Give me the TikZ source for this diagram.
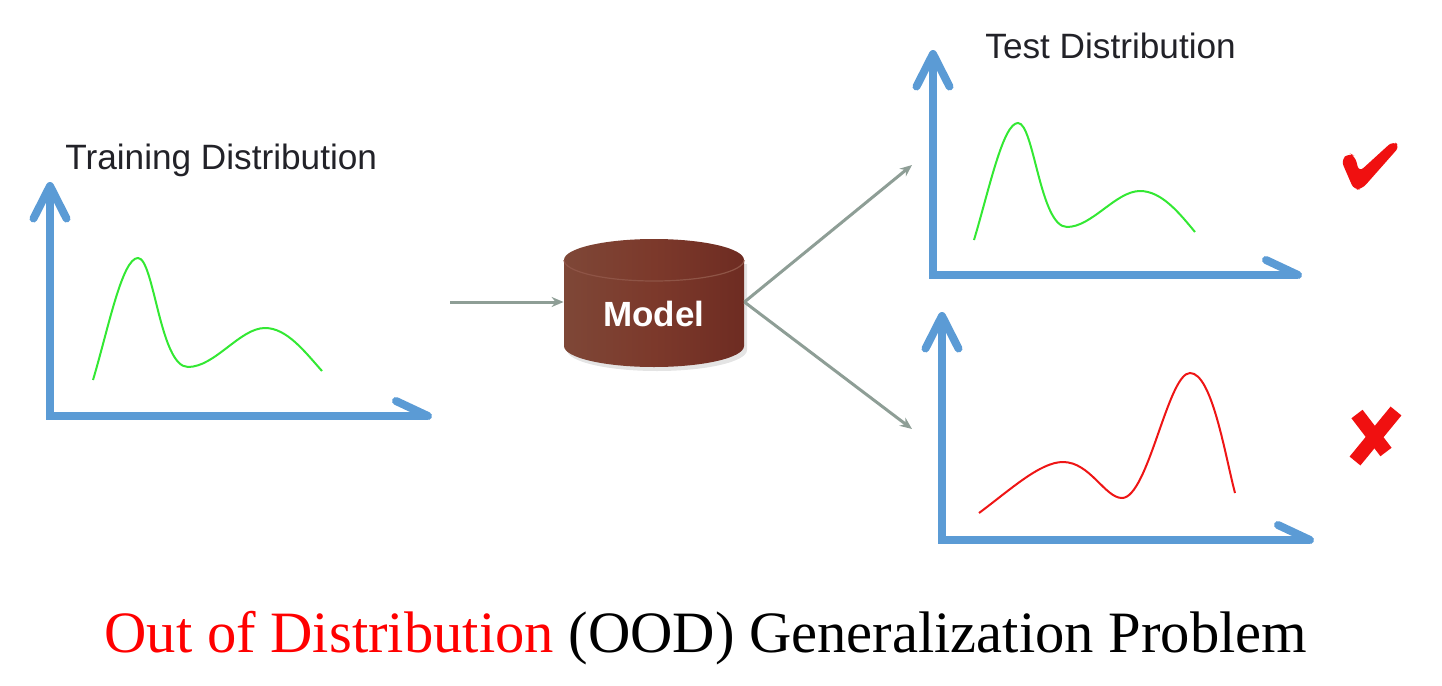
\documentclass[tikz,border=0pt]{standalone}
\usepackage{fontspec}
\usetikzlibrary{arrows.meta}
\newfontfamily\sansf{Liberation Sans}
\newfontfamily\seriff{Liberation Serif}
\definecolor{axisblue}{HTML}{5B9BD5}
\definecolor{curvegreen}{HTML}{33E833}
\definecolor{curvered}{HTML}{EE1515}
\definecolor{markred}{HTML}{F01010}
\definecolor{arrowgray}{HTML}{8E9E96}
\definecolor{cylL}{HTML}{7E4737}
\definecolor{cylM}{HTML}{7C392B}
\definecolor{cylR}{HTML}{6E2C22}
\definecolor{cylrim}{HTML}{8E5446}
\definecolor{titlegray}{HTML}{222228}
\tikzset{
  axisline/.style={draw=axisblue, line width=4pt, line join=miter},
  axisbarb/.style={draw=axisblue, line width=4pt, line cap=round, line join=round},
  goodcurve/.style={draw=curvegreen, line width=1pt},
  badcurve/.style={draw=curvered, line width=1pt},
  flow/.style={draw=arrowgray, line width=1.5pt, -{Stealth[length=6pt,width=5pt]}},
  charttitle/.style={font=\sansf\fontsize{17.6pt}{21pt}\selectfont, text=titlegray, anchor=base west, inner sep=0pt},
}
\newcommand{\chartaxes}[4]{% ox, oy, ytip, xtip
  \draw[axisline] (#1,#3) -- (#1,#2) -- (#4,#2);
  \draw[axisbarb] (#1-16.5,#3+32.5) -- (#1,#3) -- (#1+16.5,#3+32.5);
  \draw[axisbarb] (#4-32,#2-15) -- (#4,#2);
}
\begin{document}
\begin{tikzpicture}[x=0.5pt,y=-0.5pt]
\useasboundingbox (0,0) rectangle (1442,686);

% ---- Training chart
\node[charttitle] (traintitle) at (65,169) {Training Distribution};
\chartaxes{50}{416}{186}{428}
\draw[goodcurve] (93,380) .. controls (108,330) and (122,258) .. (138,258)
  .. controls (154,258) and (160,367) .. (188,367)
  .. controls (215,367) and (240,328) .. (265,328)
  .. controls (287,328) and (305,352) .. (322,371);

% ---- Model cylinder
\fill[gray!35, opacity=0.6] (567,264) -- (567,350)
  .. controls (567,361.6) and (607.3,371) .. (657,371)
  .. controls (706.7,371) and (747,361.6) .. (747,350) -- (747,264) -- cycle;
\shade[left color=cylL, right color=cylR, middle color=cylM]
  (564,260) -- (564,346)
  .. controls (564,357.6) and (604.3,367) .. (654,367)
  .. controls (703.7,367) and (744,357.6) .. (744,346)
  -- (744,260)
  .. controls (744,248.4) and (703.7,239) .. (654,239)
  .. controls (604.3,239) and (564,248.4) .. (564,260) -- cycle;
\draw[cylrim, line width=0.6pt] (564,260)
  .. controls (564,271.6) and (604.3,281) .. (654,281)
  .. controls (703.7,281) and (744,271.6) .. (744,260);
\node[minimum width=90pt, minimum height=64pt, inner sep=0pt] (cyl) at (654,302) {};
\node[font=\sansf\bfseries\fontsize{17.5pt}{20pt}\selectfont, text=white, inner sep=0pt] (model) at (654,314) {Model};

\coordinate (src) at (450,302);
\coordinate (uptgt) at (912,165);
\coordinate (downtgt) at (912,429);
\draw[flow] (src) -- (cyl.west);
\draw[flow] (cyl.east) -- (uptgt);
\draw[flow] (cyl.east) -- (downtgt);

% ---- Test chart (good)
\node[charttitle] (testtitle) at (985,58) {Test Distribution};
\chartaxes{933}{275}{54}{1298}
\draw[goodcurve] (974,240) .. controls (989,190) and (1003,123) .. (1018,123)
  .. controls (1034,123) and (1040,227) .. (1067,227)
  .. controls (1092,227) and (1116,191) .. (1140,191)
  .. controls (1162,191) and (1180,214) .. (1195,232);

% ---- Test chart (bad)
\chartaxes{942}{540}{316}{1310}
\draw[badcurve] (979,513) .. controls (1010,490) and (1040,462) .. (1063,462)
  .. controls (1090,462) and (1105,498) .. (1122,498)
  .. controls (1148,498) and (1168,373) .. (1190,373)
  .. controls (1212,373) and (1225,455) .. (1235,493);

% ---- check mark
\fill[markred, rounded corners=3pt] (1341,160) -- (1349,153) -- (1355,156) -- (1359,172)
  -- (1393,141) -- (1400,146) -- (1362,189) -- (1354,190) -- cycle;
% ---- cross mark
\draw[markred, line width=7pt] (1357,414) -- (1386,452);
\draw[markred, line width=7pt] (1396,411) -- (1355,461);

% ---- caption
\node[font=\seriff\fontsize{29.3pt}{35pt}\selectfont, anchor=base, inner sep=0pt] (caption) at (706,652)
  {\textcolor{red}{Out of Distribution} (OOD) Generalization Problem};
\end{tikzpicture}
\end{document}
